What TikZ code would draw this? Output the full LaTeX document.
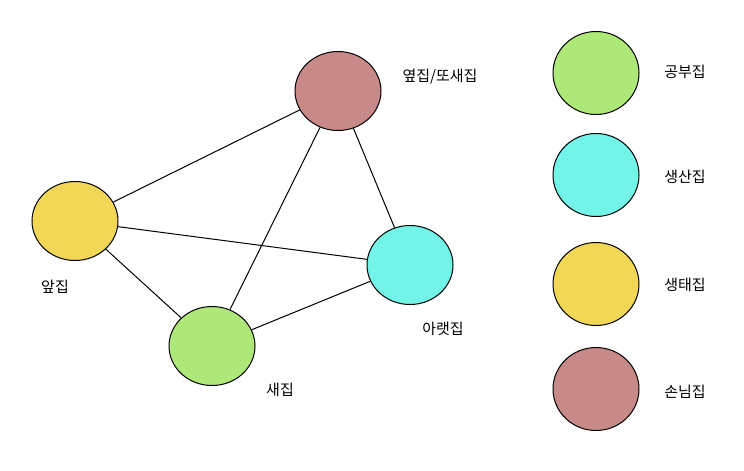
\documentclass[tikz,border=0pt]{standalone}
\usepackage{fontspec}
\setmainfont{Noto Sans CJK KR}
\usetikzlibrary{shapes.geometric}
\begin{document}
\begin{tikzpicture}[x=1pt,y=-1pt,
  blob/.style={draw=black,line width=1pt,ellipse,minimum width=86pt,minimum height=79pt,inner sep=0pt},
  lbl/.style={font=\fontsize{15}{18}\selectfont},
  edge/.style={line width=1pt}]
\definecolor{cb}{HTML}{C88A88}\definecolor{cy}{HTML}{F2D756}
\definecolor{cc}{HTML}{72F5E8}\definecolor{cg}{HTML}{ADE878}
\useasboundingbox (0,0) rectangle (744,471);
\fill[white] (0,0) rectangle (744,471);
\node[blob,fill=cb] (b) at (338,91) {};
\node[blob,fill=cy] (y) at (75,221) {};
\node[blob,fill=cc] (c) at (410,265) {};
\node[blob,fill=cg] (g) at (212,346) {};
\draw[edge] (y)--(b); \draw[edge] (y)--(c); \draw[edge] (y)--(g);
\draw[edge] (b)--(g); \draw[edge] (b)--(c); \draw[edge] (g)--(c);
\node[lbl] (lb) at (440,77) {옆집/또새집};
\node[lbl] (ly) at (55,287) {앞집};
\node[lbl] (lc) at (443,329) {아랫집};
\node[lbl] (lg) at (280,390) {새집};
\node[blob,fill=cg,minimum height=83pt] (k1) at (596,73) {};
\node[blob,fill=cc,minimum height=83pt] (k2) at (596,175) {};
\node[blob,fill=cy,minimum height=83pt] (k3) at (596,284) {};
\node[blob,fill=cb,minimum height=83pt] (k4) at (596,389) {};
\node[lbl] (t1) at (685,72) {공부집};
\node[lbl] (t2) at (685,177) {생산집};
\node[lbl] (t3) at (685,285) {생태집};
\node[lbl] (t4) at (685,392) {손님집};
\end{tikzpicture}
\end{document}
